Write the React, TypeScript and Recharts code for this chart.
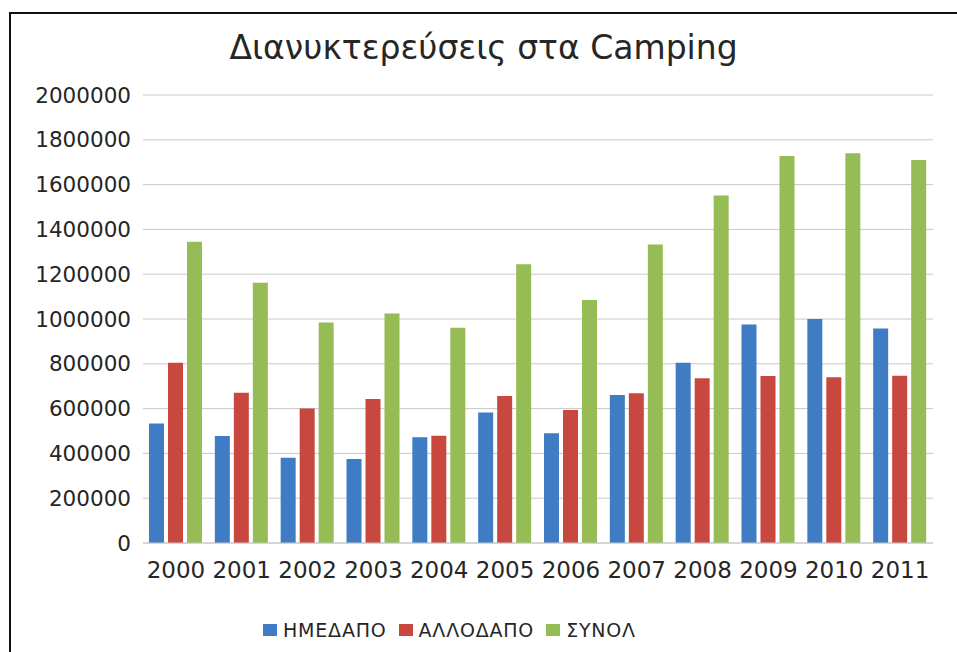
import React from "react";
import { BarChart, Bar, XAxis, YAxis, CartesianGrid } from "recharts";

const years = ["2000", "2001", "2002", "2003", "2004", "2005", "2006", "2007", "2008", "2009", "2010", "2011"];
const domestic = [534000, 478000, 381000, 375000, 472000, 583000, 490000, 661000, 805000, 976000, 1000000, 958000];
const foreign = [805000, 671000, 601000, 643000, 479000, 656000, 594000, 668000, 735000, 746000, 740000, 747000];
const total = [1345000, 1162000, 984000, 1025000, 961000, 1244000, 1085000, 1333000, 1551000, 1728000, 1740000, 1710000];
const yTicks = [0, 200000, 400000, 600000, 800000, 1000000, 1200000, 1400000, 1600000, 1800000, 2000000];
const seriesNames = ["ΗΜΕΔΑΠΟ", "ΑΛΛΟΔΑΠΟ", "ΣΥΝΟΛ"];
const seriesColors = ["#3f7cc3", "#c8473f", "#96bc55"];
const title = "Διανυκτερεύσεις στα Camping";

const data = years.map((y, i) => ({ year: y, dom: domestic[i], for: foreign[i], tot: total[i] }));
const keys = ["dom", "for", "tot"];

const yFont = { fontFamily: "DejaVu Sans", fontSize: 21.5, fill: "#262626" };
const xFont = { fontFamily: "DejaVu Sans", fontSize: 23, fill: "#262626" };

export default function App() {
  return (
    <div style={{ position: "absolute", left: 0, top: 0, width: 957, height: 652, background: "#fff", overflow: "hidden" }}>
      <div style={{ position: "absolute", left: 9, top: 12, width: 1000, height: 700, borderTop: "2px solid #111", borderLeft: "2px solid #111" }} />
      <div style={{ position: "absolute", left: 10, width: 947, top: 28, textAlign: "center", fontFamily: "DejaVu Sans", fontSize: 33, color: "#262626", whiteSpace: "nowrap" }}>
        {title}
      </div>
      <div style={{ position: "absolute", left: 0, top: 0 }}>
        <BarChart width={957} height={652} data={data} margin={{ top: 95, right: 24, left: 23, bottom: 69 }} barSize={15} barGap={4}>
          <CartesianGrid vertical={false} stroke="#c8c8c8" />
          <XAxis dataKey="year" tickLine={false} axisLine={{ stroke: "#c8c8c8" }} tick={xFont} tickMargin={13} height={40} interval={0} />
          <YAxis domain={[0, 2000000]} ticks={yTicks} tickLine={false} axisLine={false} tick={yFont} tickMargin={6} width={120} interval={0} />
          {keys.map((k, i) => (
            <Bar key={k} dataKey={k} name={seriesNames[i]} fill={seriesColors[i]} isAnimationActive={false} />
          ))}
        </BarChart>
      </div>
      <div style={{ position: "absolute", left: 263, top: 619, display: "flex", alignItems: "center", fontFamily: "DejaVu Sans", fontSize: 19, letterSpacing: 0.8, color: "#262626", whiteSpace: "nowrap" }}>
        {seriesNames.map((n, i) => (
          <div key={n} style={{ display: "flex", alignItems: "center", marginRight: 12 }}>
            <span style={{ display: "inline-block", width: 14, height: 12, background: seriesColors[i], marginRight: 6 }} />
            <span>{n}</span>
          </div>
        ))}
      </div>
    </div>
  );
}
